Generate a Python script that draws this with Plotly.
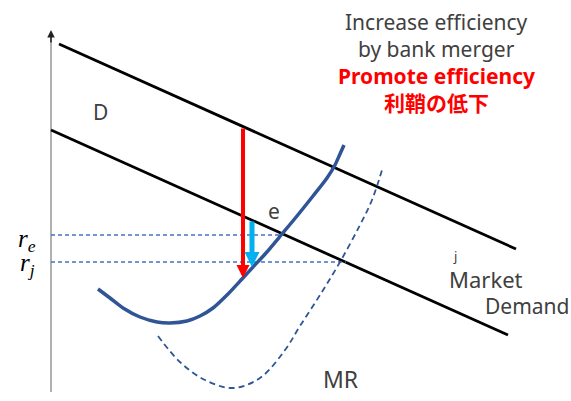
import plotly.graph_objects as go

# Axis (vertical)
axis_x = [51, 51]
axis_y = [392, 36]

# Demand lines
upper_x = [59, 516]
upper_y = [44, 249]
lower_x = [51, 508]
lower_y = [130, 335]

# Average cost curve (solid blue)
ac_x = [98, 110, 123, 140, 157, 170, 187, 200, 213, 228, 242, 253, 266, 282, 297, 313, 327, 335, 340, 344]
ac_y = [289, 298, 308, 317, 322, 323, 321, 316, 308, 294, 279, 267, 253, 234, 216, 196, 178, 165, 154, 145]

# MR curve (dashed)
mr_x = [158, 180, 205, 233, 260, 285, 300, 320, 340, 360, 372, 382]
mr_y = [336, 362, 380, 388, 378, 350, 326, 295, 262, 225, 200, 170]

# Rate levels
re_level = 235
rj_level = 262
re_x = [51, 280]
rj_x = [51, 346]

# Arrows (tail -> tip)
red_arrow = dict(x=243, y0=127, y1=278)
cyan_arrow = dict(x=252, y0=220, y1=267)

# Texts
title_grey = ["Increase efficiency", "by bank merger"]
title_red = ["Promote efficiency", "利鞘の低下"]

fig = go.Figure()

fig.add_trace(go.Scatter(x=axis_x, y=axis_y, mode="lines",
                         line=dict(color="#b0b0b0", width=2), hoverinfo="skip"))
fig.add_trace(go.Scatter(x=upper_x, y=upper_y, mode="lines",
                         line=dict(color="black", width=2.8), hoverinfo="skip"))
fig.add_trace(go.Scatter(x=lower_x, y=lower_y, mode="lines",
                         line=dict(color="black", width=2.8), hoverinfo="skip"))
fig.add_trace(go.Scatter(x=re_x, y=[re_level, re_level], mode="lines",
                         line=dict(color="#4472C4", width=1.3, dash="4px,3px"), hoverinfo="skip"))
fig.add_trace(go.Scatter(x=rj_x, y=[rj_level, rj_level], mode="lines",
                         line=dict(color="#4472C4", width=1.3, dash="4px,3px"), hoverinfo="skip"))
fig.add_trace(go.Scatter(x=mr_x, y=mr_y, mode="lines", line_shape="spline",
                         line=dict(color="#2F5597", width=1.8, dash="6px,4px"), hoverinfo="skip"))
fig.add_trace(go.Scatter(x=ac_x, y=ac_y, mode="lines", line_shape="spline", line_smoothing=0.8,
                         line=dict(color="#2F5597", width=3.5), hoverinfo="skip"))

annotations = []
# axis arrowhead
annotations.append(dict(x=51, y=30, ax=51, ay=44, xref="x", yref="y", axref="x", ayref="y",
                        text="", showarrow=True, arrowhead=2, arrowsize=1.0, arrowwidth=1.5,
                        arrowcolor="#222222", standoff=0))
# red arrow
annotations.append(dict(x=red_arrow["x"], y=red_arrow["y1"], ax=red_arrow["x"], ay=red_arrow["y0"],
                        xref="x", yref="y", axref="x", ayref="y", text="", showarrow=True,
                        arrowhead=2, arrowsize=0.65, arrowwidth=4, arrowcolor="#FF0000", standoff=0))
# cyan arrow
annotations.append(dict(x=cyan_arrow["x"], y=cyan_arrow["y1"], ax=cyan_arrow["x"], ay=cyan_arrow["y0"],
                        xref="x", yref="y", axref="x", ayref="y", text="", showarrow=True,
                        arrowhead=2, arrowsize=0.6, arrowwidth=5, arrowcolor="#00B0F0", standoff=0))

LATIN = "Noto Sans, Noto Sans CJK JP"


def label(x, y, text, size, color="#404040", xanchor="center", bold=False, family=LATIN):
    if bold:
        text = "<b>" + text + "</b>"
    annotations.append(dict(x=x, y=y, xref="x", yref="y", text=text, showarrow=False,
                            xanchor=xanchor, yanchor="middle",
                            font=dict(family=family, size=size, color=color)))


label(100, 112, "D", 21)
label(274, 211, "e", 21)
label(340, 379, "MR", 23)
label(455, 256, "j", 13)
label(447, 279, "Market", 22, xanchor="left")
label(483, 306, "Demand", 21, xanchor="left")
label(436, 35, "<br>".join(title_grey), 21)
label(436, 89.5, "<br>".join(title_red), 21, color="#FF0000", bold=True)
label(27, 240, "<i>r<sub>e</sub></i>", 25, color="#000000", family="Liberation Serif")
label(27, 264, "<i>r<sub>j</sub></i>", 25, color="#000000", family="Liberation Serif")

fig.update_layout(
    width=571, height=401,
    margin=dict(l=0, r=0, t=0, b=0),
    paper_bgcolor="white", plot_bgcolor="white",
    showlegend=False,
    xaxis=dict(range=[0, 571], visible=False, fixedrange=True),
    yaxis=dict(range=[401, 0], visible=False, fixedrange=True),
    annotations=annotations,
)

fig.write_html("out.html", config={"displayModeBar": False},
               post_script="document.body.style.margin='0px';document.body.style.padding='0px';")
